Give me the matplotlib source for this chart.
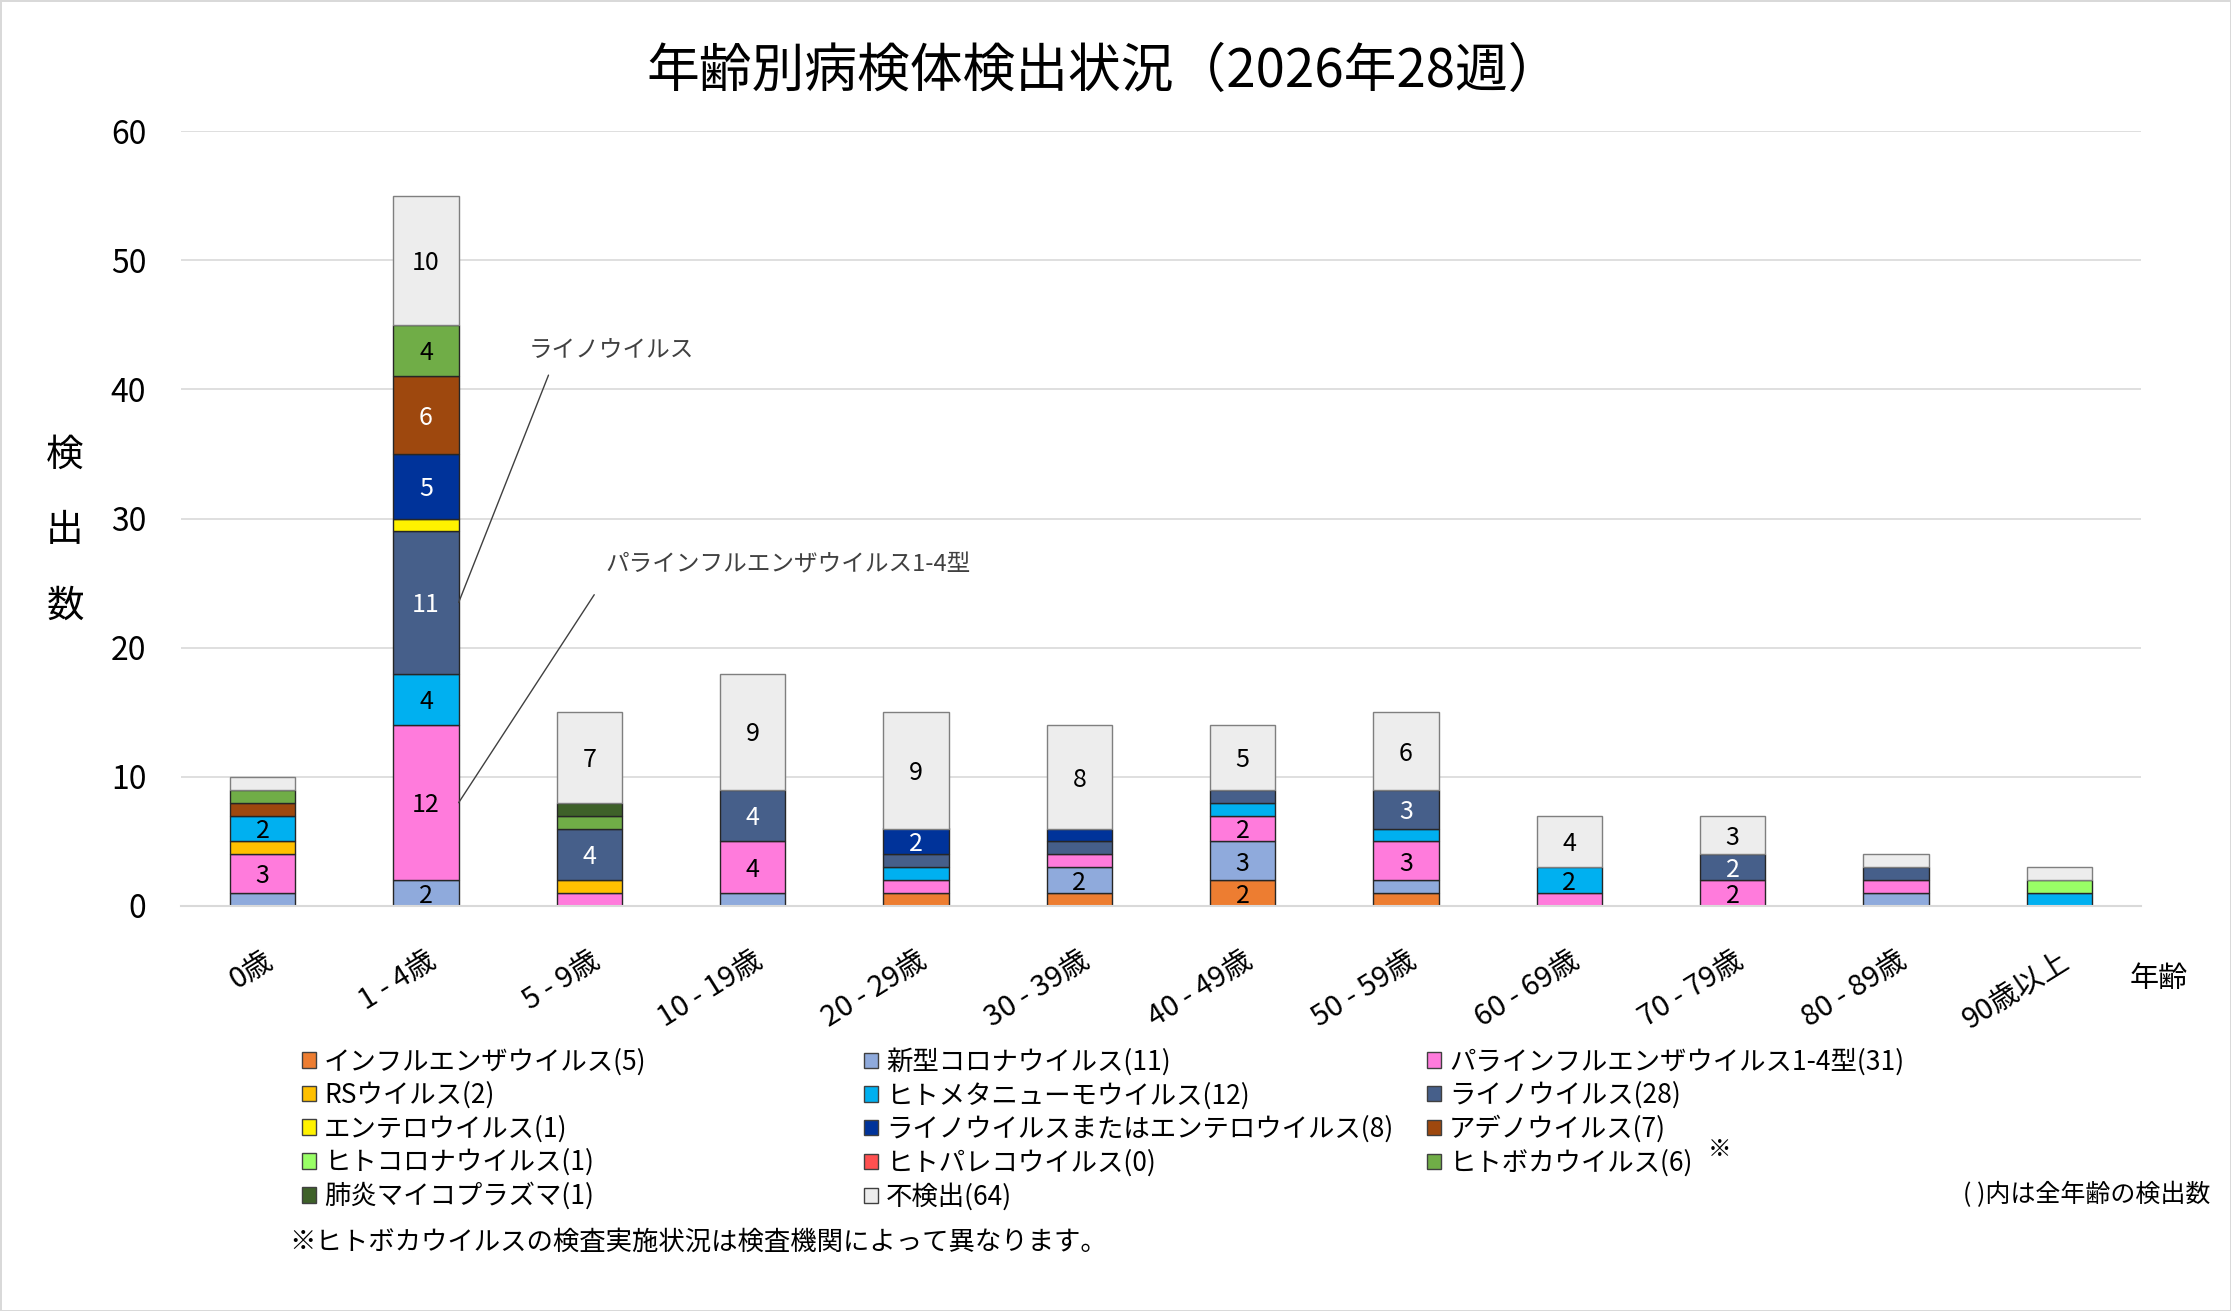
import numpy as np
import matplotlib
matplotlib.use('Agg')
import matplotlib.pyplot as plt
from matplotlib.patches import Patch
from matplotlib.transforms import ScaledTranslation

plt.rcParams['font.family'] = ['Noto Sans CJK JP', 'DejaVu Sans']

# age groups (x axis)
ages = ['0歳', '1 - 4歳', '5 - 9歳', '10 - 19歳', '20 - 29歳', '30 - 39歳',
        '40 - 49歳', '50 - 59歳', '60 - 69歳', '70 - 79歳', '80 - 89歳', '90歳以上']

# counts per age group, stacked bottom -> top
flu = [0, 0, 0, 0, 1, 1, 2, 1, 0, 0, 0, 0]
covid = [1, 2, 0, 1, 0, 2, 3, 1, 0, 0, 1, 0]
para = [3, 12, 1, 4, 1, 1, 2, 3, 1, 2, 1, 0]
rs = [1, 0, 1, 0, 0, 0, 0, 0, 0, 0, 0, 0]
hmpv = [2, 4, 0, 0, 1, 0, 1, 1, 2, 0, 0, 1]
rhino = [0, 11, 4, 4, 1, 1, 1, 3, 0, 2, 1, 0]
entero = [0, 1, 0, 0, 0, 0, 0, 0, 0, 0, 0, 0]
rhino_entero = [0, 5, 0, 0, 2, 1, 0, 0, 0, 0, 0, 0]
adeno = [1, 6, 0, 0, 0, 0, 0, 0, 0, 0, 0, 0]
hcov = [0, 0, 0, 0, 0, 0, 0, 0, 0, 0, 0, 1]
parecho = [0, 0, 0, 0, 0, 0, 0, 0, 0, 0, 0, 0]
boca = [1, 4, 1, 0, 0, 0, 0, 0, 0, 0, 0, 0]
myco = [0, 0, 1, 0, 0, 0, 0, 0, 0, 0, 0, 0]
none = [1, 10, 7, 9, 9, 8, 5, 6, 4, 3, 1, 1]

names = ['インフルエンザウイルス', '新型コロナウイルス', 'パラインフルエンザウイルス1-4型',
         'RSウイルス', 'ヒトメタニューモウイルス', 'ライノウイルス',
         'エンテロウイルス', 'ライノウイルスまたはエンテロウイルス', 'アデノウイルス',
         'ヒトコロナウイルス', 'ヒトパレコウイルス', 'ヒトボカウイルス',
         '肺炎マイコプラズマ', '不検出']
series = [flu, covid, para, rs, hmpv, rhino, entero, rhino_entero, adeno,
          hcov, parecho, boca, myco, none]
colors = ['#ED7D31', '#8FAADC', '#FF7BDC', '#FFC000', '#00B0F0', '#465F8A',
          '#FFF200', '#00339A', '#9E480E', '#99FF66', '#FF5050', '#70AD47',
          '#3E6129', '#EDEDED']
white_text = {5, 7, 8}

W, H = 2231, 1311
fig = plt.figure(figsize=(W / 100, H / 100), dpi=100)
fig.patch.set_edgecolor('#D9D9D9')
fig.patch.set_linewidth(2)
ax = fig.add_axes([181 / W, 1 - 906 / H, 1960 / W, 775 / H])

x = np.arange(len(ages))
bottom = np.zeros(len(ages))
bw = 0.40
handles = []
for i, (vals, col) in enumerate(zip(series, colors)):
    vals = np.array(vals, dtype=float)
    m = vals > 0
    ec = '#7F7F7F' if i == len(series) - 1 else '#262626'
    if m.any():
        bars = ax.bar(x[m], vals[m], bottom=bottom[m], width=bw, color=col,
                      edgecolor=ec, linewidth=1.0, zorder=2)
        labels = [str(int(v)) if v >= 2 else '' for v in vals[m]]
        texts = ax.bar_label(bars, labels=labels, label_type='center', fontsize=18,
                             color='white' if i in white_text else 'black')
        for t in texts:
            t.xyann = (0, -2)   # nudge labels down a little
    handles.append(Patch(facecolor=col, edgecolor='#404040', linewidth=1.0,
                         label='%s(%d)' % (names[i], int(vals.sum()))))
    if i == 5:
        rhino_mid = bottom[1] + vals[1] / 2
    if i == 2:
        para_mid = bottom[1] + vals[1] / 2
    bottom += vals

ax.set_xlim(-0.5, len(ages) - 0.5)
ax.set_ylim(0, 60)
ax.set_yticks(np.arange(0, 61, 10))
ax.set_xticks(x)
ax.set_xticklabels(ages, rotation=32, ha='right', va='center',
                   rotation_mode='anchor', fontsize=21)
ax.tick_params(axis='x', length=0, pad=38)
ax.tick_params(axis='y', length=0, pad=25, labelsize=23)
for lab in ax.get_xticklabels():
    lab.set_transform(lab.get_transform() + ScaledTranslation(0.08, 0, fig.dpi_scale_trans))
ax.grid(axis='y', color='#D9D9D9', linewidth=1.2)
ax.set_axisbelow(True)
for s in ['top', 'right', 'left']:
    ax.spines[s].set_visible(False)
ax.spines['bottom'].set_color('#D9D9D9')
ax.spines['bottom'].set_linewidth(1.5)

# leader lines for the 1-4 bar
ax.annotate('', xy=(1 + bw / 2, rhino_mid), xytext=(1.75, 41.1),
            arrowprops=dict(arrowstyle='-', color='#404040', lw=1.0, shrinkA=0, shrinkB=0))
ax.text(1.63, 43.0, 'ライノウイルス', fontsize=17, ha='left', va='center', color='#404040')
ax.annotate('', xy=(1 + bw / 2, para_mid), xytext=(2.03, 24.1),
            arrowprops=dict(arrowstyle='-', color='#404040', lw=1.0, shrinkA=0, shrinkB=0))
ax.text(2.10, 26.4, 'パラインフルエンザウイルス1-4型', fontsize=17, ha='left', va='center',
        color='#404040')

fig.text(1104 / W, 1 - 71 / H, '年齢別病検体検出状況（2026年28週）', fontsize=38,
         ha='center', va='center')
for ch, yy in zip('検出数', [455, 531, 606]):
    fig.text(65 / W, 1 - yy / H, ch, fontsize=27, ha='center', va='center')
fig.text(2159 / W, 1 - 979 / H, '年齢', fontsize=21, ha='center', va='center')

# legend: three columns, filled row by row
col_x = [302, 864, 1427]
for c in range(3):
    lg = fig.legend(handles=handles[c::3], loc='upper left',
                    bbox_to_anchor=(col_x[c] / W, 1 - 1048 / H),
                    bbox_transform=fig.transFigure, frameon=False, fontsize=19,
                    borderpad=0, borderaxespad=0, handlelength=0.53,
                    handleheight=0.53, handletextpad=0.3, labelspacing=0.24)
fig.text(1720 / W, 1 - 1150 / H, '※', fontsize=17, ha='center', va='center')
fig.text(2210 / W, 1 - 1195 / H, '( )内は全年齢の検出数', fontsize=18, ha='right', va='center')
fig.text(289 / W, 1 - 1242 / H, '※ヒトボカウイルスの検査実施状況は検査機関によって異なります。',
         fontsize=19, ha='left', va='center')

fig.savefig('out.png', dpi=100, facecolor='white', edgecolor=fig.get_edgecolor())
